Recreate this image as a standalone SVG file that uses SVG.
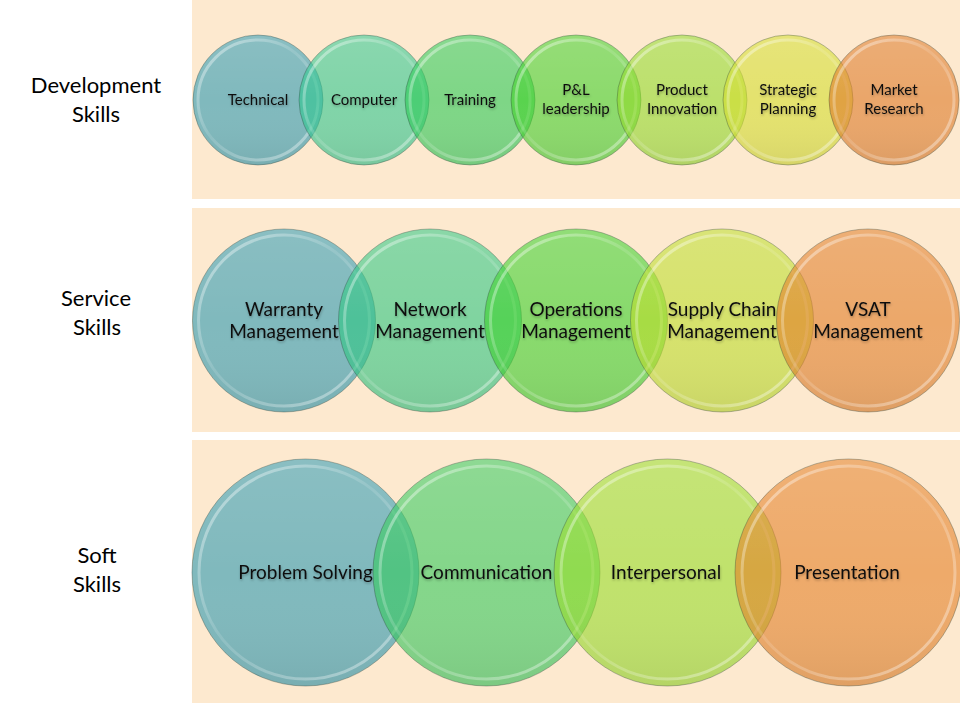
<svg xmlns="http://www.w3.org/2000/svg" width="960" height="720" viewBox="0 0 960 720">
<defs>
<style>
.band{fill:#fde9cf}
.c{fill-opacity:.6;stroke:#2a4036;stroke-opacity:.35;stroke-width:1}
.sh{fill:url(#shade)}
.rim{fill:none;stroke:url(#rimg);stroke-width:3}
.t{font-family:Lato,"Open Sans","Liberation Sans",sans-serif;fill:#111;text-anchor:middle}
.ct{filter:url(#ts)}
.s1{font-size:15px}
.s2{font-size:19px}
.lab{font-size:22px;fill:#000}
</style>
<linearGradient id="shade" x1="0" y1="0" x2="0" y2="1">
<stop offset="0" stop-color="#fff" stop-opacity=".08"/>
<stop offset=".5" stop-color="#fff" stop-opacity="0"/>
<stop offset="1" stop-color="#000" stop-opacity=".06"/>
</linearGradient>
<linearGradient id="rimg" x1="0" y1="0" x2="1" y2="1">
<stop offset="0" stop-color="#fff" stop-opacity=".5"/>
<stop offset=".45" stop-color="#fff" stop-opacity=".12"/>
<stop offset="1" stop-color="#fff" stop-opacity=".45"/>
</linearGradient>
<filter id="ts" x="-10%" y="-30%" width="120%" height="180%">
<feDropShadow dx="0.5" dy="1.5" stdDeviation="1.2" flood-color="#000" flood-opacity=".28"/>
</filter>
</defs>
<rect width="960" height="720" fill="#fff"/>
<rect class="band" x="192" y="0" width="768" height="199"/>
<rect class="band" x="192" y="208" width="768" height="224"/>
<rect class="band" x="192" y="440" width="768" height="263"/>

<g id="label-development"><text class="t lab" x="96" y="93">Development</text><text class="t lab" x="96" y="122">Skills</text></g>
<g id="label-service"><text class="t lab" x="96" y="306">Service</text><text class="t lab" x="97" y="335">Skills</text></g>
<g id="label-soft"><text class="t lab" x="97" y="563">Soft</text><text class="t lab" x="97" y="592">Skills</text></g>

<g id="technical"><circle class="c" cx="258" cy="100" r="65" fill="#2d99b1"/><circle class="sh" cx="258" cy="100" r="65"/><circle class="rim" cx="258" cy="100" r="60"/><text class="t ct s1" x="258" y="105">Technical</text></g>
<g id="computer"><circle class="c" cx="364" cy="100" r="65" fill="#2dc68e"/><circle class="sh" cx="364" cy="100" r="65"/><circle class="rim" cx="364" cy="100" r="60"/><text class="t ct s1" x="364" y="105">Computer</text></g>
<g id="training"><circle class="c" cx="470" cy="100" r="65" fill="#2aca55"/><circle class="sh" cx="470" cy="100" r="65"/><circle class="rim" cx="470" cy="100" r="60"/><text class="t ct s1" x="470" y="105">Training</text></g>
<g id="pl-leadership"><circle class="c" cx="576" cy="100" r="65" fill="#41d02a"/><circle class="sh" cx="576" cy="100" r="65"/><circle class="rim" cx="576" cy="100" r="60"/><text class="t ct s1" x="576" y="95">P&amp;L</text><text class="t ct s1" x="576" y="114">leadership</text></g>
<g id="product-innovation"><circle class="c" cx="682" cy="100" r="65" fill="#91da2a"/><circle class="sh" cx="682" cy="100" r="65"/><circle class="rim" cx="682" cy="100" r="60"/><text class="t ct s1" x="682" y="95">Product</text><text class="t ct s1" x="682" y="114">Innovation</text></g>
<g id="strategic-planning"><circle class="c" cx="788" cy="100" r="65" fill="#d4de2d"/><circle class="sh" cx="788" cy="100" r="65"/><circle class="rim" cx="788" cy="100" r="60"/><text class="t ct s1" x="788" y="95">Strategic</text><text class="t ct s1" x="788" y="114">Planning</text></g>
<g id="market-research"><circle class="c" cx="894" cy="100" r="65" fill="#de7a26"/><circle class="sh" cx="894" cy="100" r="65"/><circle class="rim" cx="894" cy="100" r="60"/><text class="t ct s1" x="894" y="95">Market</text><text class="t ct s1" x="894" y="114">Research</text></g>

<g id="warranty-management"><circle class="c" cx="284" cy="320.5" r="91.5" fill="#2d99b1"/><circle class="sh" cx="284" cy="320.5" r="91.5"/><circle class="rim" cx="284" cy="320.5" r="85.5"/><text class="t ct s2" x="284" y="316">Warranty</text><text class="t ct s2" x="284" y="338">Management</text></g>
<g id="network-management"><circle class="c" cx="430" cy="320.5" r="91.5" fill="#2dc680"/><circle class="sh" cx="430" cy="320.5" r="91.5"/><circle class="rim" cx="430" cy="320.5" r="85.5"/><text class="t ct s2" x="430" y="316">Network</text><text class="t ct s2" x="430" y="338">Management</text></g>
<g id="operations-management"><circle class="c" cx="576" cy="320.5" r="91.5" fill="#3ad02a"/><circle class="sh" cx="576" cy="320.5" r="91.5"/><circle class="rim" cx="576" cy="320.5" r="85.5"/><text class="t ct s2" x="576" y="316">Operations</text><text class="t ct s2" x="576" y="338">Management</text></g>
<g id="supply-chain-management"><circle class="c" cx="722" cy="320.5" r="91.5" fill="#bcde2a"/><circle class="sh" cx="722" cy="320.5" r="91.5"/><circle class="rim" cx="722" cy="320.5" r="85.5"/><text class="t ct s2" x="722" y="316">Supply Chain</text><text class="t ct s2" x="722" y="338">Management</text></g>
<g id="vsat-management"><circle class="c" cx="868" cy="320.5" r="91.5" fill="#e17d26"/><circle class="sh" cx="868" cy="320.5" r="91.5"/><circle class="rim" cx="868" cy="320.5" r="85.5"/><text class="t ct s2" x="868" y="316">VSAT</text><text class="t ct s2" x="868" y="338">Management</text></g>

<g id="problem-solving"><circle class="c" cx="305.5" cy="572.5" r="113.5" fill="#2d99b1"/><circle class="sh" cx="305.5" cy="572.5" r="113.5"/><circle class="rim" cx="305.5" cy="572.5" r="106.5"/><text class="t ct s2" x="305.5" y="579">Problem Solving</text></g>
<g id="communication"><circle class="c" cx="486.5" cy="572.5" r="113.5" fill="#34ca5c"/><circle class="sh" cx="486.5" cy="572.5" r="113.5"/><circle class="rim" cx="486.5" cy="572.5" r="106.5"/><text class="t ct s2" x="486.5" y="579">Communication</text></g>
<g id="interpersonal"><circle class="c" cx="667.5" cy="572.5" r="113.5" fill="#98de2a"/><circle class="sh" cx="667.5" cy="572.5" r="113.5"/><circle class="rim" cx="667.5" cy="572.5" r="106.5"/><text class="t ct s2" x="666" y="579">Interpersonal</text></g>
<g id="presentation"><circle class="c" cx="848.5" cy="572.5" r="113.5" fill="#e48026"/><circle class="sh" cx="848.5" cy="572.5" r="113.5"/><circle class="rim" cx="848.5" cy="572.5" r="106.5"/><text class="t ct s2" x="847" y="579">Presentation</text></g>
</svg>
